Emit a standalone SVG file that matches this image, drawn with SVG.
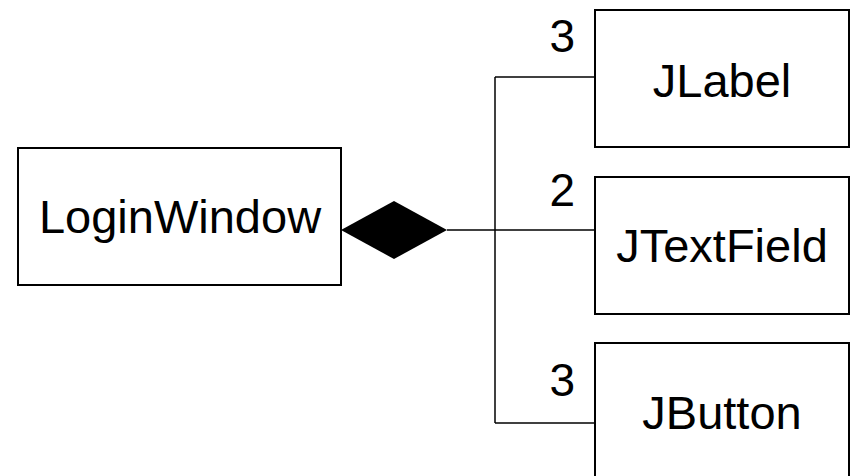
<svg xmlns="http://www.w3.org/2000/svg" width="851" height="476" viewBox="0 0 851 476">
  <style>
    .box { fill: #ffffff; stroke: #000000; stroke-width: 2; }
    .name { font-family: "Liberation Sans", Arial, sans-serif; font-size: 47px; fill: #000000; text-anchor: middle; }
    .mult { font-family: "Liberation Sans", Arial, sans-serif; font-size: 46px; fill: #000000; text-anchor: end; }
    .link { fill: none; stroke: #000000; stroke-width: 1.5; }
  </style>
  <rect width="851" height="476" fill="#ffffff"/>

  <!-- composition connectors -->
  <g id="connectors">
    <path class="link" d="M495 77 V423"/>
    <path class="link" d="M495 77 H595"/>
    <path class="link" d="M447 230 H595"/>
    <path class="link" d="M495 423 H595"/>
    <polygon points="341,230 394,201 447,230 394,259" fill="#000000"/>
    <text class="mult" x="575" y="52">3</text>
    <text class="mult" x="575" y="206">2</text>
    <text class="mult" x="575" y="396">3</text>
  </g>

  <g id="loginwindow">
    <rect class="box" x="18" y="148" width="323" height="137"/>
    <text class="name" x="180" y="233">LoginWindow</text>
  </g>

  <g id="jlabel">
    <rect class="box" x="595" y="10" width="254" height="137"/>
    <text class="name" x="722" y="97">JLabel</text>
  </g>

  <g id="jtextfield">
    <rect class="box" x="595" y="177" width="254" height="137"/>
    <text class="name" x="722" y="262">JTextField</text>
  </g>

  <g id="jbutton">
    <rect class="box" x="595" y="343" width="254" height="137"/>
    <text class="name" x="722" y="429">JButton</text>
  </g>
</svg>
